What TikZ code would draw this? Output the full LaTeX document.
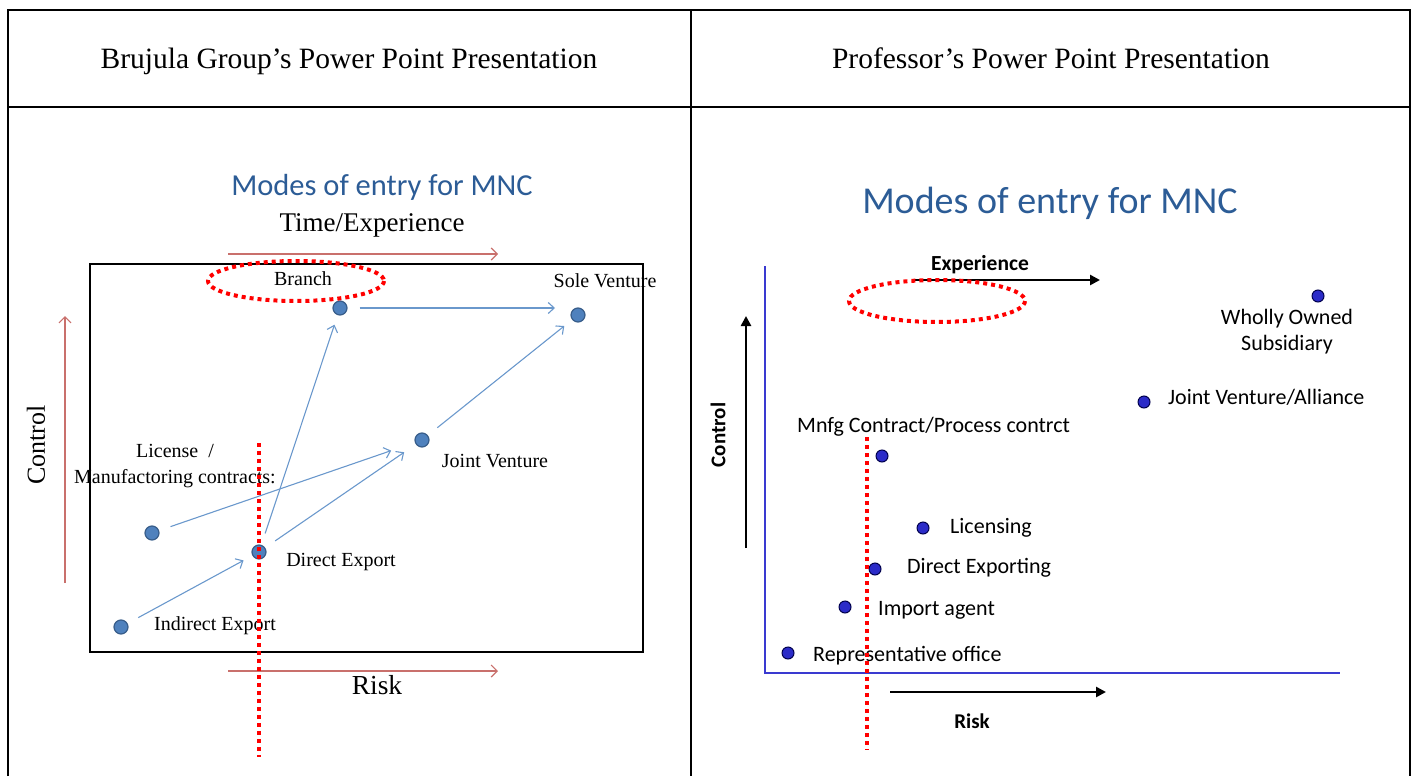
\documentclass[tikz,border=0pt]{standalone}
\usepackage{fontspec}
\setmainfont{Liberation Serif}
\newfontfamily\calibri{Carlito}
\usepackage{xcolor}
\usepackage{tikz}
\usetikzlibrary{arrows.meta}
\usetikzlibrary{positioning}

\definecolor{titleblue}{HTML}{2C5C96}
\definecolor{dotfill}{HTML}{4F81BD}
\definecolor{dotedge}{HTML}{385D8A}
\definecolor{flowblue}{HTML}{6A98CC}
\definecolor{axisred}{HTML}{C9706C}
\definecolor{dotdark}{HTML}{2B2BC8}
\definecolor{axisblue}{HTML}{3A3AD0}

\begin{document}
\begin{tikzpicture}[x=1pt,y=-1pt,
    leftdot/.style={circle,fill=dotfill,draw=dotedge,line width=1.2pt,inner sep=0pt,minimum size=14pt},
    rightdot/.style={circle,fill=dotdark,draw=black!70!blue,line width=1pt,inner sep=0pt,minimum size=12pt},
    lbl/.style={inner sep=0pt,font=\fontsize{20}{26}\selectfont},
    rlbl/.style={inner sep=0pt,anchor=west,font=\calibri\fontsize{22}{26}\selectfont},
    flow/.style={draw=flowblue,line width=1.1pt,-{Straight Barb[length=6pt,width=11pt]},shorten <=12pt,shorten >=10pt},
    redaxis/.style={draw=axisred,line width=1.2pt,-{Straight Barb[length=6pt,width=12pt]}},
    blackaxis/.style={draw=black,line width=2.8pt,-{Triangle[length=10pt,width=10pt]}},
    reddots/.style={draw=red,line width=4pt,dash pattern=on 4pt off 4pt}]
    \useasboundingbox (0,0) rectangle (1418,776);
    % table
    \draw[line width=2pt] (8,776) -- (8,10) -- (1410,10) -- (1410,776);
    \draw[line width=2pt] (8,107) -- (1410,107);
    \draw[line width=2pt] (691,10) -- (691,776);
    \node[anchor=base,font=\fontsize{29.5}{34}\selectfont] (headL) at (349,68) {Brujula Group’s Power Point Presentation};
    \node[anchor=base,font=\fontsize{29.5}{34}\selectfont] (headR) at (1051,68) {Professor’s Power Point Presentation};

    % left slide
    \node[font=\calibri\fontsize{30.5}{34}\selectfont,text=titleblue] (titleL) at (382,187) {Modes of entry for MNC};
    \node[font=\fontsize{27}{30}\selectfont] (time) at (372,225) {Time/Experience};
    \draw[line width=2.5pt] (90,264) rectangle (643,652);
    \coordinate (te0) at (228,254); \coordinate (te1) at (498,254);
    \coordinate (rk0) at (228,671); \coordinate (rk1) at (498,671);
    \coordinate (ct0) at (65,583);  \coordinate (ct1) at (65,316);
    \draw[redaxis] (te0) -- (te1);
    \draw[redaxis] (rk0) -- (rk1);
    \draw[redaxis] (ct0) -- (ct1);
    \node[font=\fontsize{27.5}{30}\selectfont] (riskL) at (377,685) {Risk};
    \node[rotate=90,font=\fontsize{26}{30}\selectfont] (ctrlL) at (36,445) {Control};

    \node[leftdot] (branch) at (340,308) {};
    \node[leftdot] (sole) at (578,315) {};
    \node[leftdot] (jv) at (422,440) {};
    \node[leftdot] (lic) at (152,533) {};
    \node[leftdot] (dexp) at (259,552) {};
    \node[leftdot] (iexp) at (121,627) {};

    \node[lbl] at (303,279) {Branch};
    \node[lbl] at (605,281) {Sole Venture};
    \node[lbl,align=center] at (175,466) {License~~/\\Manufactoring contracts:};
    \node[lbl] at (495,461) {Joint Venture};
    \node[lbl] at (341,562) {Direct Export};
    \node[lbl] at (215,626) {Indirect Export};

    \draw[flow,shorten >=23pt] (branch) -- (branch -| sole);
    \draw[flow] (dexp) -- (branch);
    \draw[flow,shorten >=25pt] (lic) -- (jv);
    \draw[flow,shorten >=14pt] (dexp) -- (jv);
    \draw[flow] (jv) -- (sole);
    \draw[flow] (iexp) -- (dexp);

    % right slide
    \node[font=\calibri\fontsize{38}{42}\selectfont,text=titleblue] (titleR) at (1050,203) {Modes of entry for MNC};
    \coordinate (ax0) at (765,266); \coordinate (ax1) at (765,673); \coordinate (ax2) at (1340,673);
    \draw[axisblue,line width=2.5pt] (ax0) -- (ax1) -- (ax2);
    \coordinate (ex0) at (912,280); \coordinate (ex1) at (1100,280);
    \coordinate (rs0) at (890,692); \coordinate (rs1) at (1106,692);
    \coordinate (cr0) at (746,548); \coordinate (cr1) at (746,316);
    \draw[blackaxis] (ex0) -- (ex1);
    \draw[blackaxis] (rs0) -- (rs1);
    \draw[blackaxis] (cr0) -- (cr1);
    \node[font=\calibri\bfseries\fontsize{21.5}{24}\selectfont] (expR) at (980,265) {Experience};
    \node[font=\calibri\bfseries\fontsize{21}{24}\selectfont] (riskR) at (972,721) {Risk};
    \node[rotate=90,font=\calibri\bfseries\fontsize{21}{24}\selectfont] (ctrlR) at (718,435) {Control};

    \node[rightdot] (wos) at (1318,296) {};
    \node[rightdot] (jva) at (1144,402) {};
    \node[rightdot] (mnfg) at (882,456) {};
    \node[rightdot] (licg) at (923,528) {};
    \node[rightdot] (dexg) at (875,569) {};
    \node[rightdot] (imp) at (845,607) {};
    \node[rightdot] (rep) at (788,653) {};

    \node[rlbl,anchor=center,align=center] at (1287,332) {Wholly Owned\\Subsidiary};
    \node[rlbl] at (1168,397) {Joint Venture/Alliance};
    \node[rlbl] at (797,427) {Mnfg Contract/Process contrct};
    \node[rlbl] at (950,528) {Licensing};
    \node[rlbl] at (907,568) {Direct Exporting};
    \node[rlbl] at (878,610) {Import agent};
    \node[rlbl] at (813,656) {Representative office};

    % red marks
    \draw[reddots] (296,281) ellipse [x radius=88, y radius=20];
    \draw[reddots] (937,301) ellipse [x radius=88, y radius=21];
    \draw[reddots] (259,443) -- (259,757);
    \draw[reddots] (867,437) -- (867,750);
  \end{tikzpicture}
\end{document}
